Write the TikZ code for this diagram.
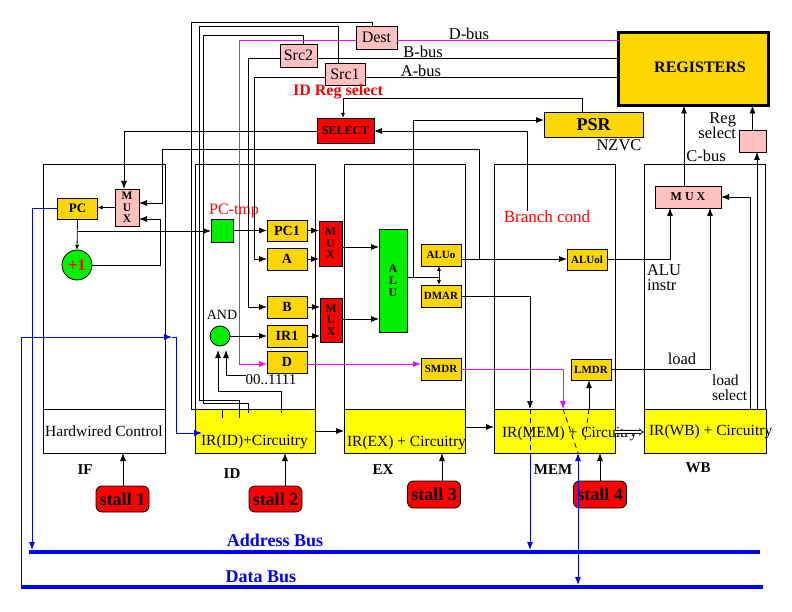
\documentclass[tikz,border=0pt]{standalone}
\usepackage{fontspec}
\setmainfont{Liberation Serif}
\usetikzlibrary{arrows.meta}
\definecolor{cgold}{RGB}{255,215,0}
\definecolor{cyel}{RGB}{255,255,0}
\definecolor{cpink}{RGB}{255,192,192}
\definecolor{cred}{RGB}{255,0,0}
\definecolor{cgreen}{RGB}{0,240,0}
\definecolor{cmag}{RGB}{255,0,255}
\definecolor{cblue}{RGB}{0,0,255}
\newcommand\myfs[2]{\fontsize{#1}{#2}\selectfont}
\begin{document}
\begin{tikzpicture}[x=1pt,y=-1pt,line width=0.8pt,
  every node/.style={inner sep=0pt,outer sep=0pt,font=\myfs{15.5}{17}},
  bx/.style={draw,line width=0.8pt},
  stagebox/.style={bx,anchor=north west,minimum height=289pt},
  goldbox/.style={bx,fill=cgold,minimum width=40pt,minimum height=22pt,font=\bfseries\myfs{14}{14}},
  smallgold/.style={goldbox,font=\bfseries\myfs{11}{11}},
  pinkbox/.style={bx,fill=cpink},
  redbox/.style={bx,fill=cred},
  greenbox/.style={bx,fill=cgreen},
  ybox/.style={bx,fill=cyel,anchor=north west,minimum height=44pt},
  arr/.style={-{Latex[length=8pt,width=6pt]}},
  sarr/.style={-{Latex[length=5pt,width=4pt]}},
  stallbox/.style={redbox,rounded corners=6pt,minimum width=53pt,minimum height=26pt,font=\bfseries\myfs{18}{18}},
  stagelbl/.style={font=\bfseries\myfs{15}{15}},
  muxtxt/.style={align=center,font=\bfseries\myfs{11.5}{11.5}},
  lbl/.style={font=\myfs{16.5}{17}},
  buslbl/.style={text=cblue,font=\bfseries\myfs{18}{18}},
  bluebus/.style={cblue,line width=4pt}
]
\useasboundingbox (0,0) rectangle (792,612);

% ---------- stage frames ----------
\node[stagebox,minimum width=122pt] (FIF) at (43,164) {};
\node[stagebox,minimum width=120pt] (FID) at (195,164) {};
\node[stagebox,minimum width=121pt] (FEX) at (344,164) {};
\node[stagebox,minimum width=121pt] (FMEM) at (494,164) {};
\node[stagebox,minimum width=121pt] (FWB) at (644,164) {};

% ---------- IR boxes ----------
\node[bx,fill=white,anchor=north west,minimum width=122pt,minimum height=44pt] (HW) at (43,409) {Hardwired Control};
\node[ybox,minimum width=120pt] (IRID) at (195,409) {};
\node[ybox,minimum width=121pt] (IREX) at (344,409) {};
\node[ybox,minimum width=121pt] (IRMEM) at (494,409) {};
\node[ybox,minimum width=122pt] (IRWB) at (644,409) {};
\node[anchor=west] (tID) at (201,442) {IR(ID)+Circuitry};
\node[anchor=west] (tEX) at (347,443) {IR(EX) + Circuitry};
\node[anchor=west] (tMEM) at (502,434) {IR(MEM) + Circuitry};
\node[anchor=west] (tWB) at (649,432) {IR(WB) + Circuitry};

% ---------- stage labels ----------
\node[stagelbl] (lIF) at (85,470) {IF};
\node[stagelbl] (lID) at (232,474) {ID};
\node[stagelbl] (lEX) at (383,470) {EX};
\node[stagelbl] (lMEM) at (553,470) {MEM};
\node[stagelbl] (lWB) at (698,468) {WB};

% ---------- stalls ----------
\node[stallbox] (S1) at (122.5,499) {stall 1};
\node[stallbox] (S2) at (275.5,499) {stall 2};
\node[stallbox,minimum height=27pt] (S3) at (434,494.5) {stall 3};
\node[stallbox,minimum height=27pt] (S4) at (600,494.5) {stall 4};

% ---------- top part ----------
\node[bx,fill=cgold,line width=3pt,minimum width=150pt,minimum height=73pt] (REG) at (693.5,69) {};
\node[font=\bfseries\myfs{16}{16}] (REGt) at (700,67) {REGISTERS};
\node[goldbox,minimum width=99pt,minimum height=25pt,font=\bfseries\myfs{18}{18}] (PSR) at (593.5,124.5) {PSR};
\node[lbl] (NZVC) at (619,145) {NZVC};
\node[pinkbox,minimum width=41pt,minimum height=23pt,font=\myfs{16}{16}] (Dest) at (376.5,37.5) {Dest};
\node[pinkbox,minimum width=37pt,minimum height=23pt,font=\myfs{16}{16}] (Src2) at (298.5,55.5) {Src2};
\node[pinkbox,minimum width=40pt,minimum height=22pt,font=\myfs{16}{16}] (Src1) at (345,74) {Src1};
\node[text=cred,font=\bfseries\myfs{16}{16}] (IDRS) at (338,92) {ID Reg select};
\node[redbox,minimum width=57pt,minimum height=25pt,font=\bfseries\myfs{12}{12}] (SELECT) at (345.5,130.5) {SELECT};
\node[lbl] (Dbus) at (469,34) {D-bus};
\node[lbl] (Bbus) at (423,52) {B-bus};
\node[lbl] (Abus) at (421,71) {A-bus};

% ---------- IF ----------
\node[goldbox,minimum width=40pt,minimum height=21pt,font=\bfseries\myfs{13}{13}] (PC) at (77.5,208.5) {PC};
\node[pinkbox,minimum width=24pt,minimum height=37pt,muxtxt] (MUXif) at (127,207.5) {M\\U\\X};
\node[circle,draw,fill=cgreen,minimum size=30pt,text=cred,font=\bfseries\myfs{16}{16}] (plus1) at (77,265) {+1};

% ---------- ID ----------
\node[greenbox,minimum width=22pt,minimum height=23pt] (PCtmp) at (222,230.5) {};
\node[text=cred,font=\myfs{16}{16}] (PCtmpl) at (234,211) {PC-tmp};
\node[goldbox,minimum height=21pt] (PC1) at (287,230.5) {PC1};
\node[goldbox] (A) at (287,259) {A};
\node[goldbox] (B) at (287,307) {B};
\node[goldbox] (IR1) at (287,336) {IR1};
\node[goldbox] (D) at (287,362) {D};
\node[redbox,minimum width=23pt,minimum height=45pt,muxtxt] (MUX1) at (330.5,243.5) {M\\U\\X};
\node[redbox,minimum width=22pt,minimum height=44pt,muxtxt] (MUX2) at (331,320) {M\\U\\X};
\node[circle,draw,fill=cgreen,minimum size=20pt] (AND) at (220,336) {};
\node[font=\myfs{14}{14}] (ANDl) at (222,315) {AND};
\node[font=\myfs{15}{15}] (t0011) at (271,380) {00..1111};

% ---------- EX ----------
\node[greenbox,minimum width=28pt,minimum height=103pt,align=center,font=\bfseries\myfs{12}{12}] (ALU) at (393,280.5) {A\\L\\U};
\node[smallgold] (ALUo) at (441,255) {ALUo};
\node[smallgold] (DMAR) at (441,296) {DMAR};
\node[smallgold] (SMDR) at (441,369) {SMDR};

% ---------- MEM ----------
\node[smallgold,minimum height=21pt] (ALUol) at (587,259.5) {ALUol};
\node[smallgold,minimum height=21pt] (LMDR) at (591,369.5) {LMDR};
\node[text=cred,font=\myfs{17}{17}] (bc) at (547,217) {Branch cond};

% ---------- WB ----------
\node[pinkbox,minimum width=66pt,minimum height=22pt,font=\bfseries\myfs{12}{12}] (WBMUX) at (688,197) {M U X};
\node[pinkbox,minimum width=27pt,minimum height=22pt] (RegSel) at (752.5,141) {};
\node[lbl] (Cbus) at (706,156) {C-bus};
\node[lbl,anchor=east] (Regl) at (736,120) {Reg};
\node[lbl,anchor=east] (Regs) at (736,133) {select};
\node[lbl,anchor=west] (ALUi1) at (647,270) {ALU};
\node[lbl,anchor=west] (ALUi2) at (647,285) {instr};
\node[lbl] (loadl) at (682,359) {load};
\node[font=\myfs{15.5}{15.5},anchor=west] (ls1) at (712,380) {load};
\node[font=\myfs{15.5}{15.5},anchor=west] (ls2) at (712,395.5) {select};

% ---------- buses ----------
\coordinate (AB1) at (29,552);
\coordinate (AB2) at (760,552);
\coordinate (DB1) at (21,587);
\coordinate (DB2) at (763,587);
\node[buslbl] (ABl) at (275,540) {Address Bus};
\node[buslbl] (DBl) at (261,577) {Data Bus};

% ================= connectors =================
% register buses
\draw[cmag] (Dest.east |- 0,40) -- (REG.west |- 0,40);
\draw[cmag,arr] (Dest.west |- 0,40) -- (239,40) -- (239,364) -- (D.west |- 0,364);
\draw (Src2.east |- 0,58) -- (REG.west |- 0,58);
\draw[arr] (Src2.west |- 0,58) -- (248,58) -- (248,307) -- (B.west);
\draw (Src1.east |- 0,77) -- (REG.west |- 0,77);
\draw[arr] (Src1.west |- 0,77) -- (254,77) -- (254,259) -- (A.west);
% register select lines into IR(ID)
\draw ([xshift=-4.5pt]Dest.north) -- (372,22) -- (191,22) -- (191,409) -- (IRID.north west);
\draw ([xshift=-7pt]Src1.north) -- (338,26) -- (199,26) -- (199,400) -- (239,400) -- (239,418);
\draw ([xshift=4.5pt]Src2.north) -- (303,35) -- (203,35) -- (203,403) -- (248,403) -- (248,413);
\draw (222,409) -- (222,418);
% AND inputs
\draw[arr] (281,413) -- (281,391) -- (218,391) -- (218,350);
\draw[arr] (t0011.west |- 0,375) -- (226,375) -- (226,350);
\draw[arr] (AND.east) -- (IR1.west);
% IF
\draw[sarr] (MUXif.west) -- (MUXif.west -| PC.east);
\draw[sarr] (PC.south) -- (plus1.north);
\coordinate (pcj) at (77.5,231);
\draw[arr] (pcj) -- (pcj -| PCtmp.west);
\draw[arr] (plus1.east) -- (160,265) -- (160,219) -- (MUXif.east |- 0,219);
\coordinate (bj) at (479,259);
\draw[arr] (bj) -- (479,149) -- (162,149) -- (162,203) -- (MUXif.east |- 0,203);
\draw[arr] (SELECT.west |- 0,131) -- (124,131) -- ([xshift=-3pt]MUXif.north);
% ID -> EX
\draw[arr] (PCtmp.east) -- (PCtmp.east -| PC1.west);
\draw[arr] (PC1.east) -- (PC1.east -| MUX1.west);
\draw[arr] (A.east) -- (A.east -| MUX1.west);
\draw[arr] (B.east) -- (B.east -| MUX2.west);
\draw[arr] (IR1.east) -- (IR1.east -| MUX2.west);
\draw[arr] (MUX1.east |- 0,247) -- (ALU.west |- 0,247);
\draw[arr] (MUX2.east |- 0,319) -- (ALU.west |- 0,319);
\draw[cmag,arr] (D.east |- 0,364) -- (SMDR.west |- 0,364);
% EX
\coordinate (aj) at (439,277);
\draw (ALU.east |- aj) -- (aj);
\draw[sarr] (aj) -- (aj |- ALUo.south);
\draw[sarr] (aj) -- (aj |- DMAR.north);
\draw[arr] (413,277) -- (413,120) -- (PSR.west |- 0,120);
\draw[arr] (ALUo.east |- 0,259) -- (ALUol.west |- 0,259);
\draw[cmag,arr] (SMDR.east) -- (563,369) -- (IRMEM.north -| 563,0);
\draw[arr] (DMAR.east) -- (530,296) -- (IRMEM.north -| 530,0);
% PSR / SELECT
\draw[sarr] ([xshift=-11.5pt]PSR.north) -- (582,98) -- (343,98) -- ([xshift=-2.5pt]SELECT.north);
\draw[arr] (bc.north -| 527,0) -- (527,131) -- (SELECT.east |- 0,131);
% MEM
\draw[arr] (IRMEM.north -| 589,0) -- (LMDR.south -| 589,0);
\draw[arr] (ALUol.east) -- (670,259.5) -- (WBMUX.south -| 670,0);
\draw[arr] (LMDR.east) -- (710,369.5) -- (WBMUX.south -| 710,0);
\draw[dash pattern=on 5pt off 4pt] (530,409) -- (530,453);
\draw[dash pattern=on 5pt off 4pt] (563,409) -- (578,453);
\draw[dash pattern=on 5pt off 4pt] (589,409) -- (585,440);
% WB
\draw[arr] (WBMUX.north -| 684,0) -- (REG.south -| 684,0);
\draw[arr] (IRWB.north -| 750,0) -- (750,197) -- (WBMUX.east);
\draw[arr] (IRWB.north -| 757,0) -- (RegSel.south -| 757,0);
\draw[arr] (RegSel.north) -- (RegSel.north |- REG.south);
% pipeline arrows
\draw[arr] (IRID.east |- 0,431) -- (IREX.west |- 0,431);
\draw[arr] (IREX.east |- 0,427) -- (IRMEM.west |- 0,427);
\draw[double,double distance=2pt,line width=0.6pt,-{Implies}] (IRMEM.east |- 0,432) -- (IRWB.west |- 0,432);
% stalls
\draw[arr] (S1.north -| 123,0) -- (HW.south -| 123,0);
\draw[arr] (S2.north -| 285,0) -- (IRID.south -| 285,0);
\draw[arr] (S3.north -| 442,0) -- (IREX.south -| 442,0);
\draw[arr] (S4.north -| 600,0) -- (IRMEM.south -| 600,0);
% blue
\draw[bluebus] (AB1) -- (AB2);
\draw[bluebus] (DB1) -- (DB2);
\draw[cblue,arr] (PC.west) -- (32,208.5) -- (32,550);
\draw[cblue,arr] (DB1) -- (21,337) -- (172,337);
\draw[cblue,arr] (172,337) -- (176,337) -- (176,433) -- (202,433);
\draw[cblue,arr] (IRMEM.south -| 530,0) -- (530,550);
\draw[cblue,{Latex[length=8pt,width=6pt]}-{Latex[length=8pt,width=6pt]}] (IRMEM.south -| 578,0) -- (578,585);
\end{tikzpicture}
\end{document}
